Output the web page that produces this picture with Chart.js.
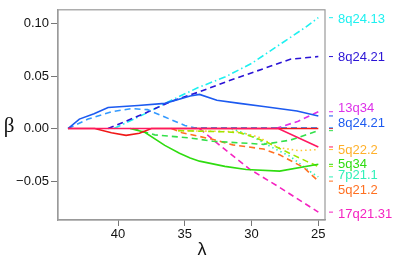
<!DOCTYPE html>
<html>
<head>
<meta charset="utf-8">
<script src="https://cdn.jsdelivr.net/npm/chart.js@4"></script>
<style>
  html, body { margin: 0; padding: 0; background: #fff; }
</style>
</head>
<body>
<canvas id="chart" width="399" height="264"></canvas>
<script>
// ── coefficient paths (lambda, beta) ────────────────────────────────────
const lamPink = [43.75, 28.0, 25];
const betaPink = [0, 0, -0.0175];

const lamRed = [43.75, 41.75, 40.5, 39.4, 38.4, 37.5, 25];
const betaRed = [0, 0, -0.004, -0.0065, -0.0045, 0, 0];

const lamBlue = [43.75, 42.9, 41.8, 40.75, 38.5, 36.5, 34.6, 33.9, 32.6, 30.9, 29.1, 26.6, 25];
const betaBlue = [0, 0.009, 0.014, 0.020, 0.022, 0.024, 0.031, 0.0325, 0.027, 0.024, 0.021, 0.0167, 0.012];

const lamLightBlue = [43.75, 42.25, 40.5, 39.0, 37.8, 36.5, 35.0, 34.3, 25];
const betaLightBlue = [0, 0.009, 0.016, 0.019, 0.018, 0.011, 0.003, 0.0008, 0.0008];

const lamDarkBlue = [40.75, 38, 36, 33.9, 31.6, 29.1, 27.1, 25];
const betaDarkBlue = [0, 0.0145, 0.026, 0.035, 0.046, 0.057, 0.066, 0.0685];

const lamCyan = [40.3, 38, 36, 34, 32, 30, 28, 26, 25];
const betaCyan = [0, 0.014, 0.027, 0.039, 0.049, 0.062, 0.079, 0.096, 0.1055];

const lamMagenta = [28.2, 26.5, 25];
const betaMagenta = [0, 0.007, 0.016];

const lamGreen = [39.1, 38, 36.5, 35.4, 34.6, 33.9, 32, 30.4, 27.9, 25];
const betaGreen = [0, -0.0035, -0.016, -0.0235, -0.028, -0.031, -0.036, -0.039, -0.0405, -0.034];

const lamGreenDash = [38.9, 37.25, 34.6, 32.9, 29.1, 27.1, 25];
const betaGreenDash = [0, -0.006, -0.009, -0.012, -0.015, -0.011, -0.002];

const lamLime = [35.5, 32.1, 30.9, 29.9, 28.9, 27.9, 26.9, 25.9, 25];
const betaLime = [-0.002, -0.003, -0.004, -0.008, -0.0127, -0.019, -0.025, -0.031, -0.036];

const lamYellow = [35.5, 31, 29.5, 28, 26.5, 25];
const betaYellow = [-0.002, -0.003, -0.008, -0.018, -0.021, -0.020];

const lamOrange = [36, 35.2, 33, 31.4, 29.1, 27.9, 26.1, 25];
const betaOrange = [0, -0.004, -0.010, -0.0155, -0.0195, -0.025, -0.037, -0.050];

const lamTurq = [31.5, 30, 28.6, 27.1, 25.5, 25];
const betaTurq = [0, -0.007, -0.017, -0.0265, -0.042, -0.046];

const lamRose = [33.9, 32.4, 30.1, 27.9, 25];
const betaRose = [0, -0.0157, -0.039, -0.056, -0.0795];

const xTicks = [40, 35, 30, 25];
const yTicks = [-0.05, 0, 0.05, 0.10];

// ── styling per path ─────────────────────────────────────────────────────
const DASH = [6, 4], DOT = [1.5, 3], DASHDOT = [7, 3, 1.5, 3];
const series = [
  { lam: lamPink,      beta: betaPink,      color: '#ff1860', dash: [],      label: null },
  { lam: lamRed,       beta: betaRed,       color: '#f01818', dash: [],      label: null },
  { lam: lamBlue,      beta: betaBlue,      color: '#1c5af0', dash: [],      label: '8q24.21', shift: 7.6 },
  { lam: lamLightBlue, beta: betaLightBlue, color: '#3399ff', dash: DASH,    label: null },
  { lam: lamDarkBlue,  beta: betaDarkBlue,  color: '#2b14d6', dash: DASH,    label: '8q24.21', shift: 1.3 },
  { lam: lamCyan,      beta: betaCyan,      color: '#1ef0f0', dash: DASHDOT, label: '8q24.13', shift: 1.9 },
  { lam: lamMagenta,   beta: betaMagenta,   color: '#dd30e8', dash: DASH,    label: '13q34', shift: -3.8 },
  { lam: lamGreen,     beta: betaGreen,     color: '#2fdc10', dash: [],      label: '5q34', shift: 0 },
  { lam: lamGreenDash, beta: betaGreenDash, color: '#33e04a', dash: DASH,    label: null },
  { lam: lamLime,      beta: betaLime,      color: '#a0e600', dash: DASH,    label: null },
  { lam: lamYellow,    beta: betaYellow,    color: '#ffc530', dash: DOT,     label: '5q22.2', shift: 0.7, text: '#ffb02a' },
  { lam: lamOrange,    beta: betaOrange,    color: '#ff7020', dash: DASH,    label: '5q21.2', shift: 9 },
  { lam: lamTurq,      beta: betaTurq,      color: '#30f0b8', dash: DOT,     label: '7p21.1', shift: -1.4 },
  { lam: lamRose,      beta: betaRose,      color: '#f522c0', dash: DASH,    label: '17q21.31', shift: 2.4 },
];

const datasets = series.map(s => ({
  data: s.lam.map((l, i) => ({ x: l, y: s.beta[i] })),
  showLine: true,
  borderColor: s.color,
  borderWidth: 1.6,
  borderDash: s.dash,
  pointRadius: 0,
  tension: 0,
  fill: false,
}));

// box, axis symbols and the labels in the right margin
const decor = {
  id: 'decor',
  afterDraw(chart) {
    const { ctx, chartArea: a, scales: { y } } = chart;
    ctx.save();
    ctx.strokeStyle = '#9a9a9a';
    ctx.lineWidth = 1.2;
    ctx.strokeRect(a.left, a.top, a.right - a.left, a.bottom - a.top);

    ctx.fillStyle = '#111';
    ctx.textAlign = 'center';
    ctx.textBaseline = 'middle';
    ctx.font = '21px "Liberation Serif"';
    ctx.fillText('\u03b2', 9, 126);
    ctx.font = '18px "Liberation Sans"';
    ctx.fillText('\u03bb', 202, 250);

    ctx.textAlign = 'left';
    ctx.font = '13px "Liberation Sans"';
    series.forEach(s => {
      const yEnd = y.getPixelForValue(s.beta[s.beta.length - 1]);
      ctx.strokeStyle = s.color;
      ctx.lineWidth = 1;
      ctx.beginPath();
      ctx.moveTo(a.right + 4, yEnd);
      ctx.lineTo(a.right + 8, yEnd);
      ctx.stroke();
      if (s.label) {
        ctx.fillStyle = s.text || s.color;
        ctx.fillText(s.label, a.right + 13, yEnd + s.shift);
      }
    });
    ctx.restore();
  }
};

new Chart(document.getElementById('chart'), {
  type: 'scatter',
  data: { datasets },
  options: {
    responsive: false,
    devicePixelRatio: 1,
    animation: false,
    layout: { padding: { top: 4, right: 74, left: 0, bottom: 0 } },
    plugins: { legend: { display: false }, tooltip: { enabled: false } },
    scales: {
      x: {
        type: 'linear',
        reverse: true,
        min: 24.5,
        max: 44.5,
        afterFit: s => { s.height = 44; },
        afterBuildTicks: s => { s.ticks = xTicks.map(v => ({ value: v })); },
        grid: { drawOnChartArea: false, drawTicks: true, tickLength: 6, color: '#777' },
        border: { display: true, color: '#9a9a9a', width: 1.2 },
        ticks: {
          padding: 1, color: '#111', maxRotation: 0,
          font: { family: 'Liberation Sans', size: 13 },
          callback: v => String(v),
        },
      },
      y: {
        type: 'linear',
        min: -0.087,
        max: 0.113,
        afterFit: s => { s.width = 58; },
        afterBuildTicks: s => { s.ticks = yTicks.map(v => ({ value: v })); },
        grid: { drawOnChartArea: false, drawTicks: true, tickLength: 7, color: '#777' },
        border: { display: true, color: '#9a9a9a', width: 1.2 },
        ticks: {
          padding: 2, color: '#111',
          font: { family: 'Liberation Sans', size: 13 },
          callback: v => (v < 0 ? '\u2212' : '') + Math.abs(v).toFixed(2),
        },
      },
    },
  },
  plugins: [decor],
});
</script>
</body>
</html>
